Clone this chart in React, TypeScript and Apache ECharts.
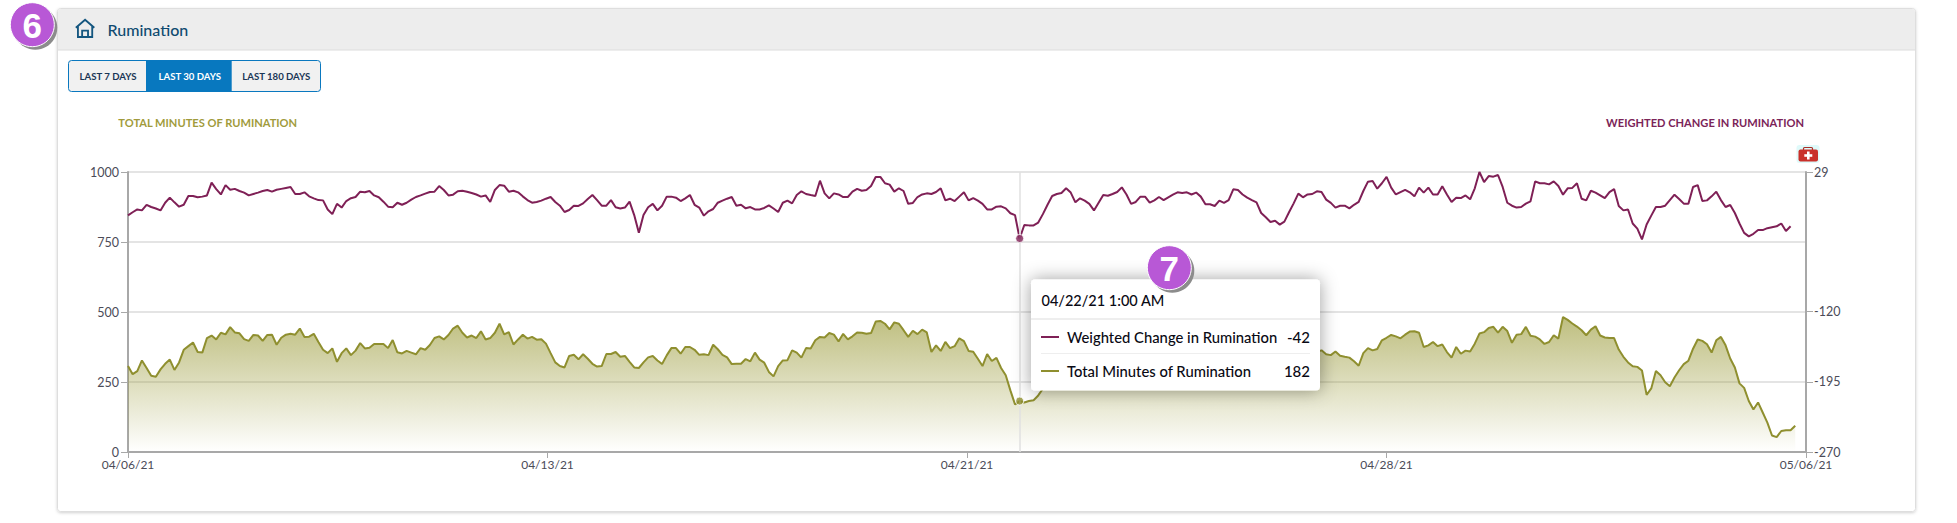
import React, { useEffect, useRef } from "react";
import * as echarts from "echarts";

// Total minutes of rumination, one reading every 2 hours from 04/06/21 1:00 AM (left axis)
const totalMinutes = [
  307,278,289,327,300,272,269,295,315,330,
  293,320,365,378,391,357,355,407,416,402,
  426,420,446,427,424,403,397,418,416,397,
  418,419,383,408,419,422,419,441,411,412,
  422,393,365,353,370,322,353,370,346,362,
  389,370,372,386,386,386,371,400,356,352,
  361,355,349,371,365,382,407,413,402,418,
  441,451,426,409,416,407,431,402,407,426,
  458,420,428,384,402,419,405,411,401,403,
  387,353,320,307,302,343,347,331,349,333,
  315,305,307,350,350,357,340,343,322,302,
  300,320,338,343,327,314,345,371,371,351,
  375,375,365,347,349,346,383,367,347,338,
  314,315,315,332,324,355,330,319,286,270,
  307,327,328,363,355,337,371,370,399,411,
  409,425,419,395,422,402,413,427,426,422,
  425,466,468,458,438,463,458,435,411,433,
  421,437,427,357,381,361,393,371,378,406,
  396,361,358,333,307,350,325,336,300,274,
  220,170,182,177,182,185,202,226,250,278,
  300,318,330,345,340,352,370,382,376,390,
  405,398,384,392,410,418,404,395,388,402,
  415,408,396,380,372,385,398,392,378,362,
  350,358,371,380,368,352,345,358,370,362,
  349,338,344,356,366,358,345,332,340,352,
  360,350,338,345,356,350,358,363,349,346,
  359,344,340,337,324,308,353,371,363,368,
  399,408,418,413,406,419,430,431,426,375,
  381,393,378,384,357,337,375,351,362,359,
  387,423,428,443,447,426,447,432,390,419,
  421,447,415,412,402,386,393,417,405,482,
  472,459,448,435,417,437,449,416,409,407,
  407,366,340,320,306,304,291,204,227,289,
  274,249,235,266,292,314,326,369,402,397,
  385,355,399,411,381,334,302,245,229,182,
  152,177,141,105,59,53,75,78,78,94,
];

// Weighted change in rumination, same readings (right axis)
const weightedChange = [
  -17.3,-14,-11,-12,-6,-8.4,-10,-12,-3.8,1.6,
  -3.4,-8,-6,3.4,3.4,2,2.7,4,17.6,10.8,
  5,15,10,11,8.7,7,4,5.5,7,8.7,
  9.8,8,10,11,12,13,5.5,5.5,7.3,3,
  0.9,-1,-1.3,-11,-16,-5,-9,-2,1,2.3,
  8,7.3,8.7,4,2,-2.7,-8,-8.7,-3.8,-6,
  -3.8,-0.5,2.3,4,5.9,7.6,8,14,9.8,4,
  4.8,8.4,9,8,6.6,5,2.7,4,-3,9.8,
  15,14.4,8,9,7.3,3,-1,-3.8,-3,-1.6,
  0.5,2.3,-3,-7,-13.7,-11.6,-7,-7.3,-4.5,0.2,
  4.4,-1,-7,-7,-1,-8.7,-10,-9,-2.7,-17,
  -36,-17,-8.7,-5,-12,-7,2.7,2.7,1.6,-2,
  0.9,4.4,-6,-9,-17.6,-13,-10.5,-3.8,-1.6,0.5,
  2.3,-7,-6,-9.8,-8.4,-11,-11,-9.4,-6.6,-10,
  -13.7,-3.8,-1.6,-4.5,4.4,8.4,5.5,4.4,3.4,19.7,
  6.2,0.9,6.2,5,2.3,2.3,8,11,9,9.8,
  14,23.7,23.7,17,15.5,8,11.6,8.7,-5,-4,
  2.3,5,6.2,5.5,7.6,11.6,-1.3,0.5,-2,2.7,
  7.3,-1.3,1.2,-1.6,-5,-11,-11,-8,-7.7,-9.8,
  -15,-17,-42,-27.6,-28,-28,-25,-16,-6,3.4,
  5.5,6.6,11.6,7,-3.4,0.9,-1.6,-5,-12,-3.8,
  4.4,3.7,5.5,7.6,12.6,5,-5,-3,2.7,2.7,
  -3.8,-1.3,2.3,-1,2,4.8,7.3,6.6,7.3,5,
  7,2.7,-5.5,-5.5,-7.3,-1.6,-4,-1,10.5,9.8,
  5,1.6,-1,-3.4,-14.8,-19.4,-24.4,-23,-27.2,-24,
  -14,-4.5,5.9,2,5,5.5,8.4,7.6,-0.5,-4,
  -9,-7,-7,-9.8,-6,-3,8.7,18.7,19.4,11.2,
  17,23.7,12.3,5,7.6,10,7.3,3,12.3,7,
  12.3,5,5,13.7,5,-3,1.6,1.2,4,-0.2,
  11.6,29,18.3,24.7,24,25.8,13,-3.8,-7,-9,
  -8.4,-4.8,-2.3,19,17,17,15.8,19,14,4.8,
  11.6,12,17,0.5,-1.3,9,7,4,1,7.6,
  10.8,-7.3,-12,-11,-26,-31.5,-43,-27,-17.6,-8.4,
  -8.4,-7,-1,4.8,0.2,-4.8,-4.8,13,15,-2,
  -1.3,3,8,-1,-8.4,-6.2,-14.8,-26,-36,-39.7,
  -37,-33,-33,-31,-30,-29,-26,-34,-29,
];

const dateLabels = ["04/06/21", "04/13/21", "04/21/21", "04/28/21", "05/06/21"];
const leftTicks = [0, 250, 500, 750, 1000];
const rightTicks = [-270, -195, -120, 29];
const rangeButtons = ["LAST 7 DAYS", "LAST 30 DAYS", "LAST 180 DAYS"];
const hoverIndex = 192;
const hoverLabel = "04/22/21 1:00 AM";
const xSpan = 361.32;
const xStep = xSpan / 4;

const GREEN = "#8f8f2f";
const PURPLE = "#7f2056";
const BADGE = "#b858d6";
const UI_FONT = "Lato, 'Noto Sans', sans-serif";

echarts.graphic.registerShape(
  "houseIcon",
  echarts.graphic.extendPath(
    "M1 11 L12 1.5 L23 11 M3.5 9.5 V22 H20.5 V9.5 M8.5 22 V14.5 H15.5 V22",
    {}
  )
);

function label(text: string, x: number, y: number, font: string, fill: string, align = "left", z = 60) {
  return { type: "text", z, silent: true, style: { text, x, y, font, fill, align, verticalAlign: "middle" } };
}

function badge(text: string, cx: number, cy: number) {
  return [
    { type: "circle", z: 80, silent: true, shape: { cx: cx + 3, cy: cy + 3, r: 22 }, style: { fill: "#8c8c8c" } },
    { type: "circle", z: 81, silent: true, shape: { cx, cy, r: 22 }, style: { fill: BADGE, stroke: "#ffffff", lineWidth: 1 } },
    label(text, cx, cy + 1, "bold 35px 'Liberation Sans', sans-serif", "#ffffff", "center", 82),
  ];
}

function buildGraphic() {
  const btnW = [77.7, 85.7, 89];
  const btnX = [68.3, 146, 231.7];
  const btnC = [108, 189.7, 276.3];
  const items: any[] = [
    // card and header
    { type: "rect", z: -10, silent: true, shape: { x: 57.5, y: 8.5, width: 1858, height: 503, r: 3 },
      style: { fill: "#ffffff", stroke: "#dedede", lineWidth: 1, shadowBlur: 3, shadowColor: "rgba(0,0,0,0.18)", shadowOffsetY: 1 } },
    { type: "rect", z: -9, silent: true, shape: { x: 58, y: 9, width: 1857, height: 41, r: [3, 3, 0, 0] },
      style: { fill: "#ededed", stroke: "#dcdcdc", lineWidth: 0 } },
    { type: "line", z: -8, silent: true, shape: { x1: 58, y1: 50, x2: 1915, y2: 50 }, style: { stroke: "#dcdcdc", lineWidth: 1 } },
    { type: "houseIcon", z: 60, silent: true, x: 75, y: 18.5, scaleX: 0.84, scaleY: 0.84,
      style: { fill: "none", stroke: "#14567f", lineWidth: 2.2 } },
    label("Rumination", 107.5, 29.5, "500 16px " + UI_FONT, "#0f4a70"),
    // range buttons
    { type: "rect", z: 60, silent: true, shape: { x: 68.5, y: 60.5, width: 252, height: 31, r: 3 },
      style: { fill: "#f1f1f1", stroke: "#0a78bf", lineWidth: 1 } },
    { type: "rect", z: 61, silent: true, shape: { x: btnX[1], y: 60.5, width: btnW[1], height: 31 }, style: { fill: "#0878bf" } },
    ...rangeButtons.map((b, i) =>
      label(b, btnC[i], 76, "bold 9.6px " + UI_FONT, i === 1 ? "#ffffff" : "#1a3656", "center", 62)
    ),
    // axis titles
    label("TOTAL MINUTES OF RUMINATION", 118.3, 122.5, "bold 11.1px " + UI_FONT, "#a19b3c"),
    label("WEIGHTED CHANGE IN RUMINATION", 1804, 122.5, "bold 11.1px " + UI_FONT, "#7b2458", "right"),
    // first-aid icon
    { type: "rect", z: 60, silent: true, shape: { x: 1796.5, y: 145, width: 23, height: 18, r: 3 }, style: { fill: "#dffafa" } },
    { type: "rect", z: 61, silent: true, shape: { x: 1803.5, y: 147.5, width: 9, height: 4, r: 1 }, style: { fill: "none", stroke: "#a83028", lineWidth: 1.2 } },
    { type: "rect", z: 62, silent: true, shape: { x: 1798.5, y: 149.5, width: 19.5, height: 12, r: 2 }, style: { fill: "#c9302a" } },
    { type: "rect", z: 63, silent: true, shape: { x: 1807, y: 151.5, width: 2.6, height: 8 }, style: { fill: "#ffffff" } },
    { type: "rect", z: 63, silent: true, shape: { x: 1804.3, y: 154.2, width: 8, height: 2.6 }, style: { fill: "#ffffff" } },
    // hover card
    { type: "rect", z: 70, silent: true, shape: { x: 1031, y: 279.5, width: 289, height: 111, r: 4 },
      style: { fill: "#ffffff", shadowBlur: 18, shadowColor: "rgba(0,0,0,0.38)", shadowOffsetX: 0, shadowOffsetY: 0 } },
    label(hoverLabel, 1041.5, 300.5, "500 14.5px " + UI_FONT, "#0a0a14", "left", 71),
    { type: "line", z: 71, silent: true, shape: { x1: 1031, y1: 319, x2: 1320, y2: 319 }, style: { stroke: "#eeeeee", lineWidth: 2 } },
    { type: "line", z: 71, silent: true, shape: { x1: 1041, y1: 337, x2: 1059, y2: 337 }, style: { stroke: PURPLE, lineWidth: 2 } },
    label("Weighted Change in Rumination", 1067, 336.5, "500 14.8px " + UI_FONT, "#0a0a14", "left", 71),
    label(String(Math.round(weightedChange[hoverIndex])), 1310, 336.5, "500 15px " + UI_FONT, "#0a0a14", "right", 71),
    { type: "line", z: 71, silent: true, shape: { x1: 1041, y1: 353.5, x2: 1310, y2: 353.5 }, style: { stroke: "#eeeeee", lineWidth: 1 } },
    { type: "line", z: 71, silent: true, shape: { x1: 1041, y1: 371, x2: 1059, y2: 371 }, style: { stroke: GREEN, lineWidth: 2 } },
    label("Total Minutes of Rumination", 1067, 370.5, "500 14.8px " + UI_FONT, "#0a0a14", "left", 71),
    label(String(totalMinutes[hoverIndex]), 1310, 370.5, "500 15px " + UI_FONT, "#0a0a14", "right", 71),
    ...badge("6", 32.3, 24.7),
    ...badge("7", 1169.3, 267.7),
  ];
  return items;
}

export default function App() {
  const ref = useRef<HTMLDivElement>(null);
  useEffect(() => {
    const chart = echarts.init(ref.current!, null, { renderer: "svg" });
    const axisText = { color: "#4b4b58", fontFamily: UI_FONT, fontSize: 12 };
    chart.setOption({
      animation: false,
      backgroundColor: "#ffffff",
      grid: { left: 128, right: 151, top: 172, bottom: 71 },
      xAxis: {
        type: "value",
        min: 0,
        max: xSpan,
        interval: xStep,
        splitLine: { show: false },
        axisLine: { onZero: false, lineStyle: { color: "#a8a8a8", width: 2 } },
        axisTick: { length: 6, lineStyle: { color: "#a8a8a8", width: 1 } },
        axisLabel: {
          ...axisText,
          margin: 6,
          showMinLabel: true,
          showMaxLabel: true,
          formatter: (v: number) => dateLabels[Math.round(v / xStep)] ?? "",
        },
      },
      yAxis: [
        {
          type: "value",
          min: 0,
          max: 1000,
          interval: 250,
          axisLine: { show: true, lineStyle: { color: "#a8a8a8", width: 2 } },
          axisTick: { show: true, length: 7, lineStyle: { color: "#a8a8a8", width: 1 } },
          axisLabel: { ...axisText, fontSize: 12.5, margin: 9, customValues: leftTicks, formatter: (v: number) => String(v) },
          splitLine: { show: true, lineStyle: { color: "#e4e4e4", width: 2 } },
        },
        {
          type: "value",
          position: "right",
          min: -270,
          max: 29,
          axisLine: { show: true, lineStyle: { color: "#a8a8a8", width: 2 } },
          axisTick: { show: true, length: 7, customValues: rightTicks, lineStyle: { color: "#a8a8a8", width: 1 } },
          axisLabel: { ...axisText, fontSize: 12.5, margin: 8, customValues: rightTicks, formatter: (v: number) => String(v) },
          splitLine: { show: false },
        },
      ],
      series: [
        {
          name: "Total Minutes of Rumination",
          type: "line",
          yAxisIndex: 0,
          showSymbol: false,
          silent: true,
          z: 3,
          data: totalMinutes.map((v, i) => [i, v]),
          lineStyle: { color: GREEN, width: 2 },
          areaStyle: {
            opacity: 1,
            color: new echarts.graphic.LinearGradient(0, 0, 0, 1, [
              { offset: 0, color: "rgba(150,150,48,0.62)" },
              { offset: 1, color: "rgba(150,150,48,0)" },
            ]),
          },
          markLine: {
            silent: true,
            symbol: "none",
            label: { show: false },
            lineStyle: { color: "#e0e0e0", width: 1.5, type: "solid" },
            data: [{ xAxis: hoverIndex }],
          },
        },
        {
          name: "Weighted Change in Rumination",
          type: "line",
          yAxisIndex: 1,
          showSymbol: false,
          silent: true,
          z: 4,
          data: weightedChange.map((v, i) => [i, v]),
          lineStyle: { color: PURPLE, width: 2 },
        },
        {
          type: "scatter",
          yAxisIndex: 0,
          silent: true,
          z: 5,
          symbolSize: 8,
          data: [[hoverIndex, totalMinutes[hoverIndex]]],
          itemStyle: { color: GREEN, borderColor: "#ffffff", borderWidth: 1 },
        },
        {
          type: "scatter",
          yAxisIndex: 1,
          silent: true,
          z: 5,
          symbolSize: 8,
          data: [[hoverIndex, weightedChange[hoverIndex]]],
          itemStyle: { color: PURPLE, borderColor: "#ffffff", borderWidth: 1 },
        },
      ],
      graphic: { elements: buildGraphic() },
    });
    return () => chart.dispose();
  }, []);
  return (
    <div
      ref={ref}
      style={{ position: "absolute", left: 0, top: 0, width: 1957, height: 523 }}
    />
  );
}
